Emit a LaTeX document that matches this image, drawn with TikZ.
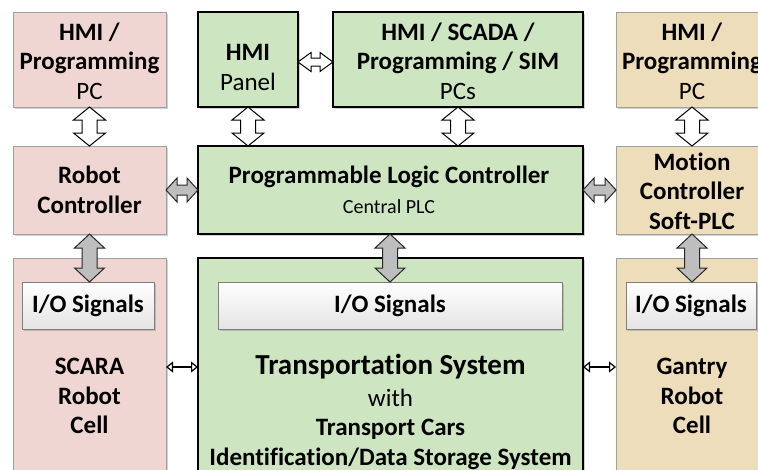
\documentclass[tikz,border=0pt]{standalone}
\usepackage{fontspec}
\setmainfont[Ligatures=CommonOff]{Carlito}
\usetikzlibrary{calc,arrows.meta,shadows}
\definecolor{pinkfill}{HTML}{F0D6D2}
\definecolor{greenfill}{HTML}{CDE6C1}
\definecolor{tanfill}{HTML}{EEDDBB}
\definecolor{lightborder}{HTML}{A0A0A0}
\definecolor{arrowgray}{HTML}{BEBEBE}
\definecolor{ioborder}{HTML}{7F7F7F}
\definecolor{iobottom}{HTML}{E4E4E4}

\newcommand\vblock[6]{%
 \path[#1] let \p1=(#2), \p2=(#3) in
  (\x1,\y1) -- (\x1+#4pt,\y1-#6pt) -- (\x1+#5pt,\y1-#6pt) -- (\x1+#5pt,\y2+#6pt)
  -- (\x1+#4pt,\y2+#6pt) -- (\x1,\y2) -- (\x1-#4pt,\y2+#6pt) -- (\x1-#5pt,\y2+#6pt)
  -- (\x1-#5pt,\y1-#6pt) -- (\x1-#4pt,\y1-#6pt) -- cycle;}
\newcommand\hblock[6]{%
 \path[#1] let \p1=(#2), \p2=(#3) in
  (\x1,\y1) -- (\x1+#6pt,\y1+#4pt) -- (\x1+#6pt,\y1+#5pt) -- (\x2-#6pt,\y1+#5pt)
  -- (\x2-#6pt,\y1+#4pt) -- (\x2,\y1) -- (\x2-#6pt,\y1-#4pt) -- (\x2-#6pt,\y1-#5pt)
  -- (\x1+#6pt,\y1-#5pt) -- (\x1+#6pt,\y1-#4pt) -- cycle;}

\tikzset{
 box/.style={rectangle, inner sep=0pt, outer sep=0pt},
 softshadow/.style={drop shadow={shadow xshift=1.5pt, shadow yshift=-1.5pt, opacity=0.3, fill=black!60}},
 pinkbox/.style={box, fill=pinkfill, draw=lightborder, line width=0.8pt, softshadow},
 tanbox/.style={box, fill=tanfill, draw=lightborder, line width=0.8pt, softshadow},
 greenbox/.style={box, fill=greenfill, draw=black, line width=1.8pt, softshadow},
 iobox/.style={box, draw=ioborder, line width=0.8pt, top color=white, bottom color=iobottom,
   minimum height=47pt, font=\fontsize{25pt}{29.5pt}\selectfont\bfseries, softshadow},
 txt/.style={align=center, inner sep=0pt, font=\fontsize{25pt}{29.5pt}\selectfont},
 blockw/.style={draw=black, line width=1pt, line join=miter, fill=white},
 blockg/.style={draw=black!85, line width=1pt, line join=miter, fill=arrowgray},
 thinarrow/.style={draw=black, line width=1.2pt,
   {Triangle[open,length=7pt,width=11pt]}-{Triangle[open,length=7pt,width=11pt]}}
}

\begin{document}
\begin{tikzpicture}[x=1pt,y=-1pt]
\useasboundingbox (0,0) rectangle (758,469);
\clip (0,0) rectangle (758,469);

% top row
\node[pinkbox, minimum width=153pt, minimum height=95pt] (pcL) at (89.5,59.5) {};
\node[greenbox, minimum width=100pt, minimum height=95pt] (pnl) at (248,59.5) {};
\node[greenbox, minimum width=250pt, minimum height=95pt] (scada) at (458,59.5) {};
\node[tanbox, minimum width=152pt, minimum height=95pt] (pcR) at (692,59.5) {};

% middle row
\node[pinkbox, minimum width=153pt, minimum height=88pt] (robot) at (89.5,190) {};
\node[greenbox, minimum width=385pt, minimum height=88pt] (plc) at (390.5,190) {};
\node[tanbox, minimum width=152pt, minimum height=88pt] (motion) at (692,190) {};

% bottom row
\node[pinkbox, minimum width=153pt, minimum height=232pt] (scara) at (89.5,374) {};
\node[greenbox, minimum width=385pt, minimum height=232pt] (trans) at (390.5,374) {};
\node[tanbox, minimum width=152pt, minimum height=232pt] (gantry) at (692,374) {};

% I/O boxes
\node[iobox, minimum width=132pt] (io1) at (88,305.5) {I/O Signals};
\node[iobox, minimum width=344pt] (io2) at (390,305.5) {I/O Signals};
\node[iobox, minimum width=130pt] (io3) at (691,305.5) {I/O Signals};

% texts
\node[txt] (pcLt) at (89.5,61) {\textbf{HMI /}\\\textbf{Programming}\\PC};
\node[txt] (pnlt) at (248,67.5) {\textbf{HMI}\\Panel};
\node[txt] (scadat) at (458,61) {\textbf{HMI / SCADA /}\\\textbf{Programming / SIM}\\PCs};
\node[txt] (pcRt) at (692,61) {\textbf{HMI /}\\\textbf{Programming}\\PC};
\node[txt] (robott) at (89.5,190) {\textbf{Robot}\\\textbf{Controller}};
\node[txt] (plct) at (389,190) {\textbf{Programmable Logic Controller}\\{\fontsize{20pt}{24pt}\selectfont Central PLC}};
\node[txt] (motiont) at (692,191) {\textbf{Motion}\\\textbf{Controller}\\\textbf{Soft-PLC}};
\node[txt] (scarat) at (89.5,396) {\textbf{SCARA}\\\textbf{Robot}\\\textbf{Cell}};
\node[txt] (transt) at (390.5,411.5) {{\fontsize{29pt}{30pt}\selectfont\textbf{Transportation System}}\\[2.5pt]with\\\textbf{Transport Cars}\\\textbf{Identification/Data Storage System}};
\node[txt] (gantryt) at (692,396) {\textbf{Gantry}\\\textbf{Robot}\\\textbf{Cell}};

% white block arrows
\vblock{blockw}{pcL.south}{robot.north}{16}{7.5}{13}
\vblock{blockw}{pnl.south}{pnl.south |- plc.north}{16}{7.5}{13}
\vblock{blockw}{scada.south}{scada.south |- plc.north}{16}{7.5}{13}
\vblock{blockw}{pcR.south}{motion.north}{16}{7.5}{13}
\hblock{blockw}{$(pnl.east)+(0,2.5)$}{$(scada.west)+(0,2.5)$}{9.5}{4}{13}

% gray block arrows
\hblock{blockg}{robot.east}{plc.west}{12}{5}{11}
\hblock{blockg}{plc.east}{motion.west}{12}{5}{11}
\vblock{blockg}{robot.south}{robot.south |- io1.north}{15}{7.5}{14}
\vblock{blockg}{io2.north |- plc.south}{io2.north}{15}{7.5}{14}
\vblock{blockg}{motion.south}{motion.south |- io3.north}{15}{7.5}{14}

% thin arrows
\coordinate (t1a) at ($(scara.north east)+(0,109)$);
\coordinate (t1b) at ($(trans.north west)+(0,109)$);
\coordinate (t2a) at ($(trans.north east)+(0,109)$);
\coordinate (t2b) at ($(gantry.north west)+(0,109)$);
\draw[thinarrow] (t1a) -- (t1b);
\draw[thinarrow] (t2a) -- (t2b);
\end{tikzpicture}
\end{document}
